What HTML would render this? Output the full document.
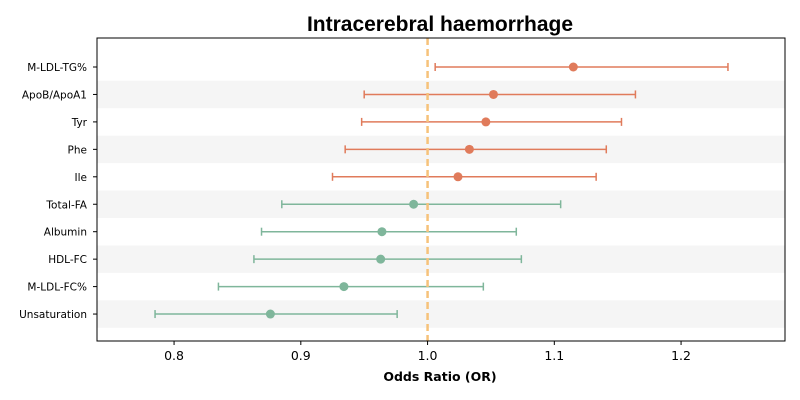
<!DOCTYPE html>
<html><head><meta charset="utf-8"><style>
body{margin:0;background:#fff;font-family:"DejaVu Sans","Liberation Sans",sans-serif}
svg{display:block}
</style></head><body>
<svg id="chart" width="800" height="400" xmlns="http://www.w3.org/2000/svg">
<text x="440" y="31" text-anchor="middle" font-size="21" font-weight="bold" fill="#000" font-family="Liberation Sans, sans-serif">Intracerebral haemorrhage</text>
<g id="bands"></g>
<g id="marks"></g>
<rect x="97" y="38" width="688" height="303" fill="none" stroke="#000" stroke-width="1"/>
<g id="axes"></g>
<text x="440" y="381" text-anchor="middle" font-size="12.5" font-weight="bold">Odds Ratio (OR)</text>
</svg>
<script>
const categories=["M-LDL-TG%","ApoB/ApoA1","Tyr","Phe","Ile","Total-FA","Albumin","HDL-FC","M-LDL-FC%","Unsaturation"];
const orValues=[1.115,1.052,1.046,1.033,1.024,0.989,0.964,0.963,0.934,0.876];
const lowerCI=[1.006,0.950,0.948,0.935,0.925,0.885,0.869,0.863,0.835,0.785];
const upperCI=[1.237,1.164,1.153,1.141,1.133,1.105,1.070,1.074,1.044,0.976];
const xTicks=[0.8,0.9,1.0,1.1,1.2];
const xTickLabels=["0.8","0.9","1.0","1.1","1.2"];
const refValue=1.0;

const NS="http://www.w3.org/2000/svg";
const x0=97,x1=785,dMin=0.7392,dMax=1.282;
const xs=v=>x0+(v-dMin)/(dMax-dMin)*(x1-x0);
const ys=i=>67+i*27.45;
function mk(t,a,p){const e=document.createElementNS(NS,t);for(const k in a)e.setAttribute(k,a[k]);p.appendChild(e);return e;}
const bands=document.getElementById('bands'),marks=document.getElementById('marks'),axes=document.getElementById('axes');
categories.forEach((c,i)=>{
  if(i%2===1){const b=mk('rect',{x:x0,y:ys(i)-13.7,width:x1-x0,height:27.45,fill:'#f5f5f5'},bands);
    
    }
  const col=orValues[i]>=1?'#e07b5b':'#7fb69b';
  const g=mk('g',{},marks);
  
  
  const y=ys(i);
  mk('line',{x1:xs(lowerCI[i]),x2:xs(lowerCI[i]),y1:y-4,y2:y+4,stroke:col,'stroke-width':1.5},g);
  mk('line',{x1:xs(lowerCI[i]),x2:xs(upperCI[i]),y1:y,y2:y,stroke:col,'stroke-width':1.5},g);
  mk('line',{x1:xs(upperCI[i]),x2:xs(upperCI[i]),y1:y-4,y2:y+4,stroke:col,'stroke-width':1.5},g);
  mk('circle',{cx:xs(orValues[i]),cy:y,r:4.5,fill:col},g);
  const t=mk('text',{x:x0-10,y:y+4,'text-anchor':'end','font-size':10.5},axes);t.textContent=c;
  
  
  mk('line',{x1:x0-4,x2:x0,y1:y,y2:y,stroke:'#000'},axes);
});
const rl=mk('line',{x1:xs(refValue),x2:xs(refValue),y1:38,y2:341,stroke:'#f6c27a','stroke-width':2.5,'stroke-dasharray':'7,4'},marks);


xTicks.forEach((v,i)=>{
  mk('line',{x1:xs(v),x2:xs(v),y1:341,y2:345,stroke:'#000'},axes);
  const t=mk('text',{x:xs(v),y:360,'text-anchor':'middle','font-size':12.5},axes);t.textContent=xTickLabels[i];
  
  
});
</script>
</body></html>
